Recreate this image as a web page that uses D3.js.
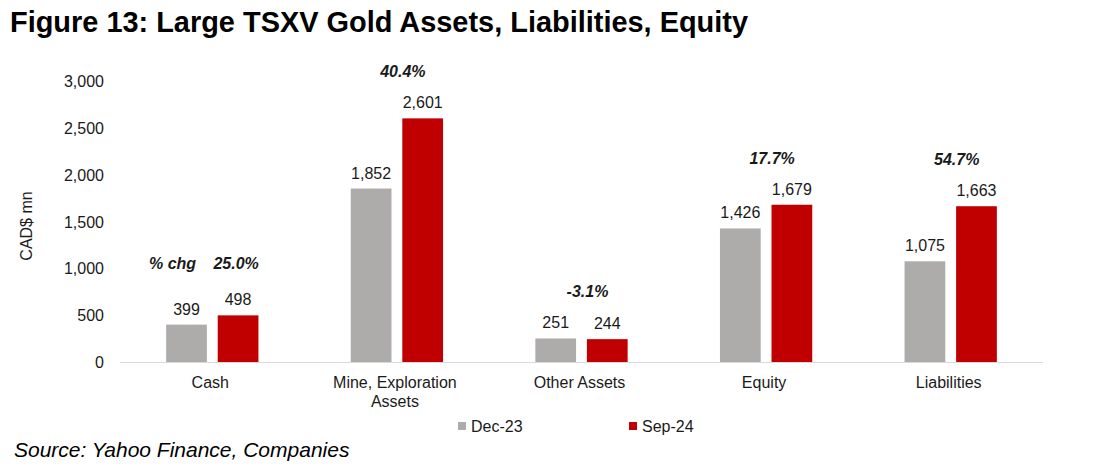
<!DOCTYPE html>
<html>
<head>
<meta charset="utf-8">
<script src="https://cdn.jsdelivr.net/npm/d3@7/dist/d3.min.js"></script>
<style>
  html, body { margin: 0; padding: 0; background: #fff; }
  svg { display: block; }
  text { font-family: "Liberation Sans", Arial, sans-serif; fill: #1a1a1a; }
</style>
</head>
<body>
<svg id="chart" width="1113" height="476"></svg>
<script>
const categories = [["Cash"], ["Mine, Exploration", "Assets"], ["Other Assets"], ["Equity"], ["Liabilities"]];
const seriesNames = ["Dec-23", "Sep-24"];
const dec23 = [399, 1852, 251, 1426, 1075];
const sep24 = [498, 2601, 244, 1679, 1663];
const pctChg = ["25.0%", "40.4%", "-3.1%", "17.7%", "54.7%"];
const yTicks = [0, 500, 1000, 1500, 2000, 2500, 3000];
const colors = ["#AEABAB", "#C00000"];

const svg = d3.select("#chart");
const plotLeft = 120, plotRight = 1043, plotTop = 81, plotBottom = 362;

const catKeys = categories.map(c => c.join(" "));
const x0 = d3.scaleBand().domain(catKeys).range([plotLeft, plotRight]).padding(0);
const bw = x0.bandwidth();
const x1 = d3.scaleBand().domain(seriesNames).range([bw * 0.25, bw * 0.75]).paddingInner(0.21);
const y = d3.scaleLinear().domain([0, 3000]).range([plotBottom, plotTop]);

// Title
svg.append("text").attr("x", 10).attr("y", 32)
  .attr("font-size", 29).attr("font-weight", "bold").style("fill", "#000")
  .attr("textLength", 738).attr("lengthAdjust", "spacingAndGlyphs")
  .text("Figure 13: Large TSXV Gold Assets, Liabilities, Equity");

// Y axis
const yAxis = d3.axisLeft(y).tickValues(yTicks).tickSize(0).tickPadding(0)
  .tickFormat(d3.format(","));
const gy = svg.append("g").attr("transform", `translate(104,0)`).call(yAxis);
gy.select(".domain").remove();
gy.selectAll("text").attr("font-size", 16).style("font-family", '"Liberation Sans", Arial, sans-serif').style("fill", "#1a1a1a").attr("dy", "0.35em");

svg.append("text").attr("transform", `translate(32,226) rotate(-90)`)
  .attr("text-anchor", "middle").attr("font-size", 16).text("CAD$ mn");

// Bars
const data = catKeys.map((k, i) => ({ key: k, vals: [dec23[i], sep24[i]] }));
const groups = svg.append("g").selectAll("g").data(data).join("g")
  .attr("transform", d => `translate(${x0(d.key)},0)`);

groups.selectAll("rect").data(d => d.vals.map((v, j) => ({ s: seriesNames[j], v, j })))
  .join("rect")
  .attr("x", d => x1(d.s)).attr("width", x1.bandwidth())
  .attr("y", d => y(d.v)).attr("height", d => plotBottom - y(d.v))
  .attr("fill", d => colors[d.j]);

groups.selectAll("text.val").data(d => d.vals.map((v, j) => ({ s: seriesNames[j], v })))
  .join("text").attr("class", "val")
  .attr("x", d => x1(d.s) + x1.bandwidth() / 2).attr("y", d => y(d.v) - 10)
  .attr("text-anchor", "middle").attr("font-size", 16)
  .text(d => d3.format(",")(d.v));

// Percent change labels
data.forEach((d, i) => {
  const maxV = Math.max(...d.vals);
  let py = y(maxV) - 41;
  let px = x0(d.key) + bw / 2 + 6;
  if (i === 0) {
    py -= 5;
    px = x0(d.key) + x1(seriesNames[1]) + x1.bandwidth() / 2 - 2;
    svg.append("text").attr("x", x0(d.key) + x1(seriesNames[0]) + x1.bandwidth() / 2 - 14)
      .attr("y", py).attr("text-anchor", "middle").attr("font-size", 16)
      .attr("font-weight", "bold").attr("font-style", "italic").text("% chg");
  }
  svg.append("text").attr("x", px).attr("y", py).attr("text-anchor", "middle")
    .attr("font-size", 16).attr("font-weight", "bold").attr("font-style", "italic")
    .text(pctChg[i]);
});

// X axis line
svg.append("line").attr("x1", plotLeft).attr("x2", plotRight).attr("y1", plotBottom + 0.5).attr("y2", plotBottom + 0.5)
  .attr("stroke", "#D9D9D9").attr("stroke-width", 1);

// Category labels
categories.forEach((lines, i) => {
  const cx = x0(catKeys[i]) + bw / 2 - 2;
  const t = svg.append("text").attr("x", cx).attr("y", 388)
    .attr("text-anchor", "middle").attr("font-size", 16);
  lines.forEach((ln, k) => t.append("tspan").attr("x", cx)
    .attr("dy", k === 0 ? 0 : 18.5).text(ln));
});

// Legend
const legX = [458, 629];
seriesNames.forEach((s, j) => {
  svg.append("rect").attr("x", legX[j]).attr("y", 422).attr("width", 8).attr("height", 8).attr("fill", colors[j]);
  svg.append("text").attr("x", legX[j] + 13).attr("y", 432).attr("font-size", 16).text(s);
});

// Source
svg.append("text").attr("x", 14).attr("y", 457).attr("font-size", 21)
  .attr("font-style", "italic").style("fill", "#000").text("Source: Yahoo Finance, Companies");
</script>
</body>
</html>
